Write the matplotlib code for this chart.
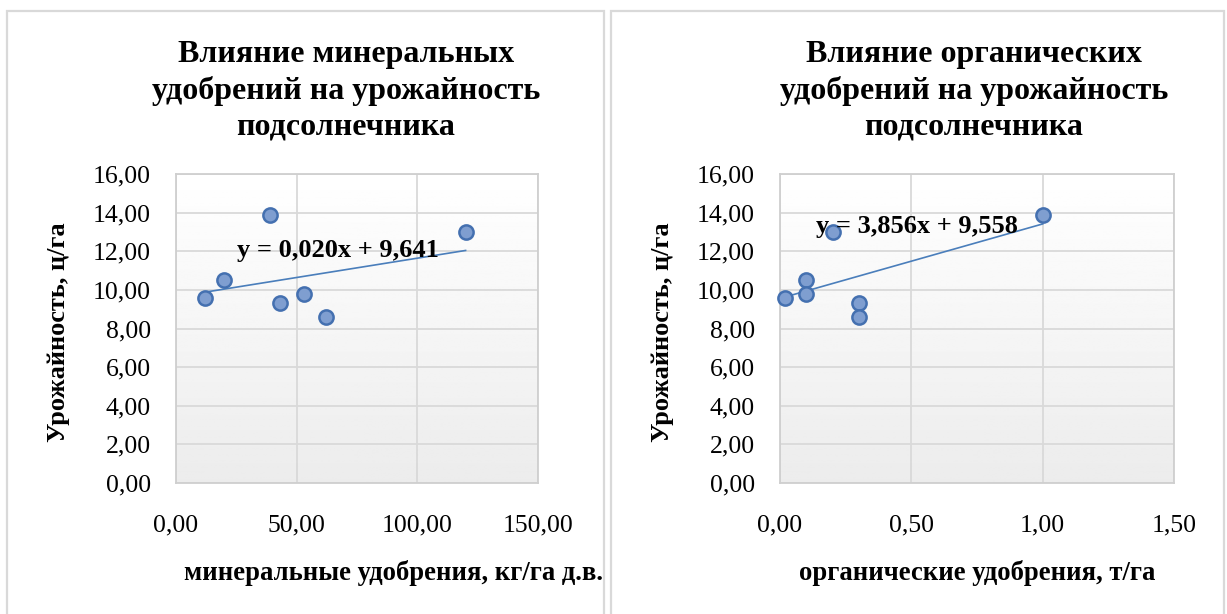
import numpy as np
import matplotlib
matplotlib.use("Agg")
import matplotlib.pyplot as plt
from matplotlib.ticker import FuncFormatter, MultipleLocator
from matplotlib.patches import Rectangle

# Yield of sunflower against fertiliser doses (seven fields)
yield_c_ha = [9.6, 10.5, 13.9, 9.3, 9.8, 8.6, 13.0]
mineral_kg_ha = [12, 20, 39, 43, 53, 62, 120]
organic_t_ha = [0.02, 0.10, 1.00, 0.30, 0.10, 0.30, 0.20]

# Linear trend coefficients (slope, intercept)
mineral_trend = (0.020, 9.641)
organic_trend = (3.856, 9.558)

titles = [
    ["Влияние минеральных", "удобрений на урожайность", "подсолнечника"],
    ["Влияние органических", "удобрений на урожайность", "подсолнечника"],
]
xlabels = ["минеральные удобрения, кг/га д.в.", "органические удобрения, т/га"]
ylabel = "Урожайность, ц/га"

W, H = 1227, 614
fig = plt.figure(figsize=(W / 100, H / 100), dpi=100)
fig.patch.set_facecolor("white")

SERIF = ["Liberation Serif", "DejaVu Serif"]
GRID = "#d9d9d9"
LINE = "#4a7ebb"
FILL = "#7f9ed0"
EDGE = "#4470b0"


def fx(px):
    return px / W


def fy(py):
    return 1 - py / H


def comma(v, _pos=None):
    return f"{v:.2f}".replace(".", ",")


# chart frames
for x0, x1 in [(7, 604), (611, 1224)]:
    fig.patches.append(Rectangle((fx(x0), fy(640)), fx(x1 - x0), (640 - 11) / H,
                                 transform=fig.transFigure, fill=False,
                                 edgecolor="#d9d9d9", linewidth=1.6))


def panel(ax_px, xs, ys, trend, xmax, xstep, title, xlabel, title_cx, xlabel_cx,
          ylabel_cx, eq_pos):
    left, right, top, bottom = ax_px
    ax = fig.add_axes([fx(left), fy(bottom), fx(right - left), (bottom - top) / H])
    ax.set_xlim(0, xmax)
    ax.set_ylim(0, 16)

    # soft vertical gradient in the plot area
    grad = np.linspace(0.925, 1.0, 256).reshape(-1, 1)
    ax.imshow(grad, cmap="gray", vmin=0, vmax=1, aspect="auto",
              extent=[0, xmax, 0, 16], origin="lower", zorder=0)

    ax.xaxis.set_major_locator(MultipleLocator(xstep))
    ax.yaxis.set_major_locator(MultipleLocator(2))
    ax.xaxis.set_major_formatter(FuncFormatter(comma))
    ax.yaxis.set_major_formatter(FuncFormatter(comma))
    ax.grid(True, color=GRID, linewidth=1.3, zorder=1)
    ax.set_axisbelow(True)
    for s in ax.spines.values():
        s.set_color("#cfcfcf")
        s.set_linewidth(1.3)
    ax.tick_params(length=0, labelsize=18.5, colors="black")
    ax.tick_params(axis="y", pad=18)
    ax.tick_params(axis="x", pad=23)
    for lab in ax.get_xticklabels() + ax.get_yticklabels():
        lab.set_fontfamily(SERIF)

    slope, icpt = trend
    xl = np.array([min(xs), max(xs)])
    ax.plot(xl, slope * xl + icpt, color=LINE, linewidth=1.2, zorder=3)
    ax.scatter(xs, ys, s=105, facecolor=FILL, edgecolor=EDGE, linewidth=1.8,
               zorder=4, clip_on=False)

    eq = f"y = {slope:.3f}x + {icpt:.3f}".replace(".", ",")
    ax.text(eq_pos[0], eq_pos[1], eq, fontsize=19, fontweight="bold",
            family=SERIF, ha="left", va="baseline", zorder=5)

    for i, line in enumerate(title):
        fig.text(fx(title_cx), fy(62 + 36.5 * i), line, fontsize=23,
                 fontweight="bold", family=SERIF, ha="center", va="baseline")

    fig.text(fx(xlabel_cx), fy(580), xlabel, fontsize=19.2, fontweight="bold",
             family=SERIF, ha="center", va="baseline")
    fig.text(fx(ylabel_cx), fy((top + bottom) / 2 + 4), ylabel, fontsize=19,
             fontweight="bold", family=SERIF, ha="center", va="center",
             rotation=90)
    return ax


panel((176, 538, 174, 483), mineral_kg_ha, yield_c_ha, mineral_trend, 150, 50,
      titles[0], xlabels[0], 346, 394, 58, (25.3, 11.70))
panel((780, 1174, 174, 483), organic_t_ha, yield_c_ha, organic_trend, 1.5, 0.5,
      titles[1], xlabels[1], 974, 977, 663, (0.137, 12.94))

fig.savefig("out.png", dpi=100, facecolor="white")
